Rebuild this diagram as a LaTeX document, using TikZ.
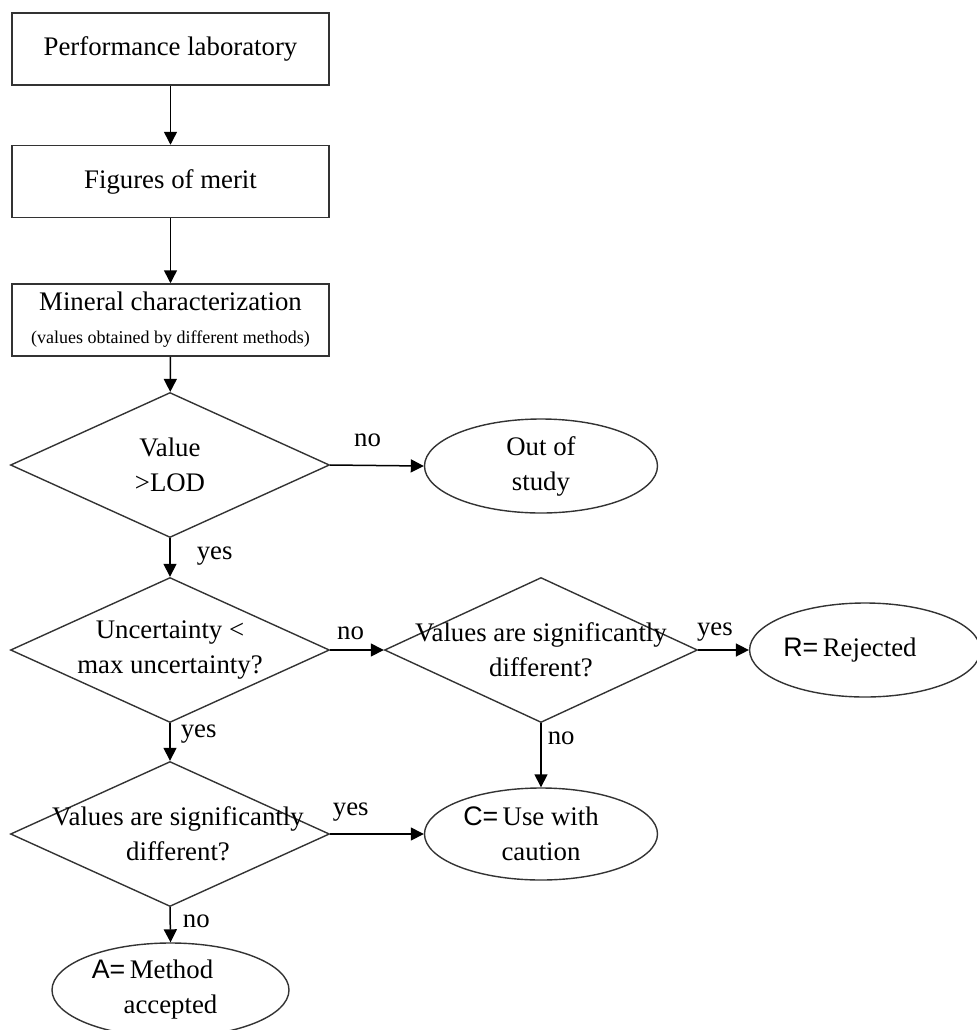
\documentclass[tikz,border=0pt]{standalone}
\usepackage{fontspec}
\setmainfont{Liberation Serif}
\newfontfamily\sansletter{Liberation Sans}
\usetikzlibrary{shapes.geometric,arrows.meta}

\tikzset{
	process/.style={draw=black!80,line width=0.75pt,rectangle,minimum width=158.5pt,minimum height=36pt,align=center,inner sep=0pt},
	decision/.style={draw=black!80,line width=0.7pt,diamond,minimum width=159.5pt,minimum height=72.5pt,inner sep=0pt},
	terminal/.style={draw=black!80,line width=0.7pt,ellipse,minimum width=116.5pt,minimum height=47pt,align=center,inner sep=0pt},
	flow/.style={line width=0.75pt,-{Triangle[length=6.5pt,width=6.5pt]}},
	answer/.style={inner sep=1pt}
}

\begin{document}
\begin{tikzpicture}[x=0.5pt,y=-0.5pt,font=\fontsize{13.4}{17.5}\selectfont]

		\clip (0,0) rectangle (977,1030);

		% boxes on the left
		\node[process] (perf) at (170.5,49) {Performance laboratory};
		\node[process] (merit) at (170.5,181.5) {Figures of merit};
		\node[process] (mineral) at (170.5,320) {Mineral characterization\\[-1pt]{\fontsize{9}{10}\selectfont(values obtained by different methods)}};

		% decisions
		\node[decision,label={[align=center]center:Value\\>LOD}] (lod) at (170,465) {};
		\node[decision,label={[align=center]center:Uncertainty <\\max uncertainty?}] (unc) at (170,650) {};
		\node[decision,minimum width=156.5pt,label={[align=center]center:Values are significantly\\different?}] (sigright) at (541,650) {};
		\node[decision,label={[align=center,xshift=4pt]center:Values are significantly\\different?}] (sigleft) at (170,834) {};

		% results
		\node[terminal] (out) at (541,466) {Out of\\study};
		\node[terminal,minimum width=113pt] (rej) at (865,650) {{\sansletter R=}\,Rejected\hspace{15pt}};
		\node[terminal,minimum width=116.5pt,minimum height=46pt] (caution) at (541,834) {\hspace*{-10pt}{\sansletter C=}\,Use with\\caution};
		\node[terminal,minimum width=118.5pt] (acc) at (170.5,990) {\hspace*{-18pt}{\sansletter A=}\,Method\\accepted};

		\draw[flow] (perf) -- (merit);
		\draw[flow] (merit) -- (mineral);
		\draw[flow] (mineral) -- (lod);
		\draw[flow] (lod.east) -- (out.west) node[answer,pos=0.4,above=8pt] {no};
		\draw[flow] (lod.south) -- (unc.north) node[answer,pos=0.45,right=12pt] {yes};
		\draw[flow] (unc.east) -- (sigright.west) node[answer,pos=0.38,above=4pt] {no};
		\draw[flow] (sigright.east) -- (rej.west) node[answer,pos=0.33,above=3pt] {yes};
		\draw[flow] (sigright.south) -- (caution.north) node[answer,pos=0.24,right=2pt] {no};
		\draw[flow] (unc.south) -- (sigleft.north) node[answer,pos=0.3,right=4pt] {yes};
		\draw[flow] (sigleft.east) -- (caution.west) node[answer,pos=0.22,above=5pt] {yes};
		\draw[flow] (sigleft.south) -- (acc.north) node[answer,pos=0.4,right=5pt] {no};

	\end{tikzpicture}
\end{document}
